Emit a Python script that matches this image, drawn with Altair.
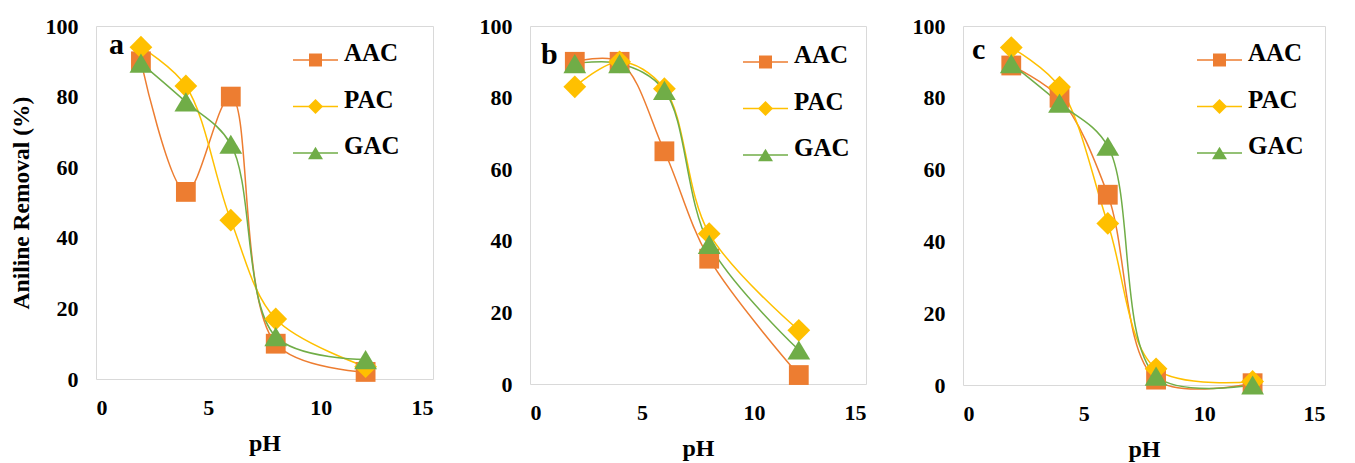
import altair as alt
import pandas as pd

ph = [2, 4, 6, 8, 12]
series = ["AAC", "PAC", "GAC"]
panels = ["a", "b", "c"]
colors = ["#ED7D31", "#FFC000", "#70AD47"]

aac_a = [90, 53, 80, 10, 2]
pac_a = [94, 83, 45, 17, 3.5]
gac_a = [89.5, 78.5, 66.5, 12, 5.5]

aac_b = [90, 90, 65, 35, 2.5]
pac_b = [83, 90, 82.5, 42, 15]
gac_b = [89.5, 89.5, 82, 39, 9.5]

aac_c = [89, 80, 53, 1.5, 0.5]
pac_c = [94, 83, 45, 4.5, 1]
gac_c = [89.5, 78.5, 66.5, 2.5, 0]

data = {"a": [aac_a, pac_a, gac_a], "b": [aac_b, pac_b, gac_b], "c": [aac_c, pac_c, gac_c]}

rows = []
for p in panels:
    for s, vals in zip(series, data[p]):
        for xv, yv in zip(ph, vals):
            rows.append({"panel": p, "series": s, "ph": xv, "removal": yv})
df = pd.DataFrame(rows)

# marker shapes (square, diamond, triangle) in unit space
shapes = [
    "M-0.33,-0.33H0.33V0.33H-0.33Z",
    "M0,-0.38L0.38,0L0,0.38L-0.38,0Z",
    "M0,-0.32L0.38,0.32H-0.38Z",
]

FONT = "Liberation Serif"

cs = alt.Scale(domain=series, range=colors)
ss = alt.Scale(domain=series, range=shapes)

# layout per panel: (width, height, legend left, legend first-row y, letter x, letter y, y title)
layout = {
    "a": (337, 353, 197, 34, 13, 28, True),
    "b": (336, 358, 213, 36, 11, 38, False),
    "c": (362, 359, 234, 34, 9, 33, False),
}
ROW = 46.5
LEG_LINE = 45


def make_panel(p):
    w, h, lx, ly, tx, ty, show_y = layout[p]
    d = df[df.panel == p]
    base = alt.Chart(d)
    yaxis_kwargs = dict(values=[0, 20, 40, 60, 80, 100], labelPadding=18, titlePadding=12)
    yaxis_kwargs["title"] = "Aniline Removal (%)" if show_y else None
    x = alt.X("ph:Q", scale=alt.Scale(domain=[0, 15], nice=False),
              axis=alt.Axis(values=[0, 5, 10, 15], title="pH", labelPadding=18, titlePadding=13))
    y = alt.Y("removal:Q", scale=alt.Scale(domain=[0, 100], nice=False),
              axis=alt.Axis(**yaxis_kwargs))
    lines = base.mark_line(interpolate="catmull-rom", strokeWidth=1.5).encode(
        x=x, y=y, color=alt.Color("series:N", scale=cs, legend=None), detail="series:N"
    )
    pts = base.mark_point(filled=True, size=3600, opacity=1).encode(
        x=x, y=y,
        color=alt.Color("series:N", scale=cs, legend=None),
        shape=alt.Shape("series:N", scale=ss, legend=None),
    )
    layers = [lines, pts]
    # legend (line + marker + label) per series
    for i, (s, c, shp) in enumerate(zip(series, colors, shapes)):
        ry = ly + i * ROW
        ldf = pd.DataFrame({"series": [s]})
        layers.append(alt.Chart(ldf).mark_rule(color=c, strokeWidth=1.5).encode(
            x=alt.value(lx), x2=alt.value(lx + LEG_LINE), y=alt.value(ry)))
        layers.append(alt.Chart(ldf).mark_point(filled=True, opacity=1, color=c, shape=shp, size=1550).encode(
            x=alt.value(lx + LEG_LINE / 2), y=alt.value(ry)))
        layers.append(alt.Chart(ldf).mark_text(
            font=FONT, fontSize=25, fontWeight="bold", align="left", baseline="alphabetic", color="black"
        ).encode(x=alt.value(lx + LEG_LINE + 6), y=alt.value(ry + 1), text="series:N"))
    letter = alt.Chart(pd.DataFrame({"letter": [p]})).mark_text(
        font=FONT, fontSize=30, fontWeight="bold", align="left", baseline="alphabetic", color="black"
    ).encode(x=alt.value(tx), y=alt.value(ty), text="letter:N")
    layers.append(letter)
    return alt.layer(*layers).properties(width=w, height=h)


chart = alt.hconcat(*[make_panel(p) for p in panels], spacing=97, bounds="flush").properties(
    padding={"left": 0, "top": 6, "right": 5, "bottom": 0}
).configure_view(
    stroke="#D9D9D9", strokeWidth=1
).configure_axis(
    domain=False, ticks=False, tickSize=0, grid=False,
    labelFont=FONT, labelFontSize=22, labelFontWeight="bold", labelColor="black",
    titleFont=FONT, titleFontSize=24, titleFontWeight="bold", titleColor="black",
).configure_axisY(
    titleFontSize=23.5
)

chart.save("out.html", embed_options={"renderer": "svg", "actions": False})
